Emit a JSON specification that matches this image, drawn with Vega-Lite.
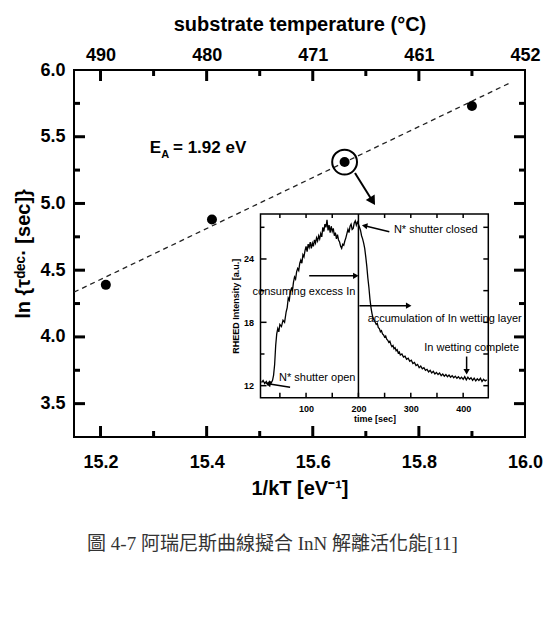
{
  "$schema": "https://vega.github.io/schema/vega-lite/v6.json",
  "width": 451,
  "height": 367,
  "autosize": "none",
  "padding": {"left": 74, "top": 70, "right": 26, "bottom": 185},
  "background": "white",
  "config": {
    "font": "Liberation Sans",
    "view": {"stroke": "black", "strokeWidth": 2},
    "axis": {"grid": false, "ticks": false, "labelColor": "black", "titleColor": "black", "domainColor": "black"}
  },
  "title": {
    "text": "圖 4-7 阿瑞尼斯曲線擬合 InN 解離活化能[11]",
    "orient": "bottom",
    "anchor": "middle",
    "offset": 37,
    "dx": -27,
    "font": "Liberation Serif, Noto Sans CJK TC",
    "fontSize": 19,
    "fontWeight": "normal",
    "color": "#333333"
  },
  "datasets": {
    "points": [
      {"x": 15.21, "y": 4.39},
      {"x": 15.41, "y": 4.88},
      {"x": 15.66, "y": 5.31},
      {"x": 15.90, "y": 5.73}
    ],
    "fit": [
      {"x": 15.15, "y": 4.335},
      {"x": 15.97, "y": 5.9}
    ],
    "mainTicks": [
      {"x": 15.2, "x2": 15.2, "y": 3.25, "y2": 3.3324}, {"x": 15.4, "x2": 15.4, "y": 3.25, "y2": 3.3324},
      {"x": 15.6, "x2": 15.6, "y": 3.25, "y2": 3.3324}, {"x": 15.8, "x2": 15.8, "y": 3.25, "y2": 3.3324},
      {"x": 15.3, "x2": 15.3, "y": 3.25, "y2": 3.295}, {"x": 15.5, "x2": 15.5, "y": 3.25, "y2": 3.295},
      {"x": 15.7, "x2": 15.7, "y": 3.25, "y2": 3.295}, {"x": 15.9, "x2": 15.9, "y": 3.25, "y2": 3.295},
      {"x": 15.2, "x2": 15.2, "y": 6.0, "y2": 5.9176}, {"x": 15.4, "x2": 15.4, "y": 6.0, "y2": 5.9176},
      {"x": 15.6, "x2": 15.6, "y": 6.0, "y2": 5.9176}, {"x": 15.8, "x2": 15.8, "y": 6.0, "y2": 5.9176},
      {"x": 15.3, "x2": 15.3, "y": 6.0, "y2": 5.955}, {"x": 15.5, "x2": 15.5, "y": 6.0, "y2": 5.955},
      {"x": 15.7, "x2": 15.7, "y": 6.0, "y2": 5.955}, {"x": 15.9, "x2": 15.9, "y": 6.0, "y2": 5.955},
      {"x": 15.15, "x2": 15.1707, "y": 3.5, "y2": 3.5}, {"x": 15.15, "x2": 15.1707, "y": 4.0, "y2": 4.0},
      {"x": 15.15, "x2": 15.1707, "y": 4.5, "y2": 4.5}, {"x": 15.15, "x2": 15.1707, "y": 5.0, "y2": 5.0},
      {"x": 15.15, "x2": 15.1707, "y": 5.5, "y2": 5.5},
      {"x": 15.15, "x2": 15.1613, "y": 3.75, "y2": 3.75}, {"x": 15.15, "x2": 15.1613, "y": 4.25, "y2": 4.25},
      {"x": 15.15, "x2": 15.1613, "y": 4.75, "y2": 4.75}, {"x": 15.15, "x2": 15.1613, "y": 5.25, "y2": 5.25},
      {"x": 15.15, "x2": 15.1613, "y": 5.75, "y2": 5.75},
      {"x": 16.0, "x2": 15.9793, "y": 3.5, "y2": 3.5}, {"x": 16.0, "x2": 15.9793, "y": 4.0, "y2": 4.0},
      {"x": 16.0, "x2": 15.9793, "y": 4.5, "y2": 4.5}, {"x": 16.0, "x2": 15.9793, "y": 5.0, "y2": 5.0},
      {"x": 16.0, "x2": 15.9793, "y": 5.5, "y2": 5.5},
      {"x": 16.0, "x2": 15.9887, "y": 3.75, "y2": 3.75}, {"x": 16.0, "x2": 15.9887, "y": 4.25, "y2": 4.25},
      {"x": 16.0, "x2": 15.9887, "y": 4.75, "y2": 4.75}, {"x": 16.0, "x2": 15.9887, "y": 5.25, "y2": 5.25},
      {"x": 16.0, "x2": 15.9887, "y": 5.75, "y2": 5.75}
    ],
    "ring": [{"x": 15.66, "y": 5.31}],
    "mainArrow": [{"x": 15.6796, "y": 5.2285, "x2": 15.7128, "y2": 5.017}],
    "mainHead": [{"x": 15.7128, "y": 5.017}],
    "eaMain": [
      {"x": 15.293, "y": 5.378, "label": "E"},
      {"x": 15.3366, "y": 5.378, "label": "= 1.92 eV"}
    ],
    "eaSub": [{"x": 15.3145, "y": 5.341, "label": "A"}],
    "curve": [
      {"t": 15, "I": 12.3}, {"t": 18, "I": 12.5}, {"t": 21, "I": 12.2}, {"t": 24, "I": 12.4}, {"t": 27, "I": 12.1},
      {"t": 30, "I": 12.4}, {"t": 33, "I": 12.2}, {"t": 36, "I": 12.5}, {"t": 38, "I": 13.0}, {"t": 40, "I": 14.0},
      {"t": 42, "I": 15.8}, {"t": 44, "I": 16.9}, {"t": 46, "I": 17.4}, {"t": 48, "I": 17.1}, {"t": 50, "I": 17.8},
      {"t": 53, "I": 17.6}, {"t": 56, "I": 18.2}, {"t": 59, "I": 18.0}, {"t": 62, "I": 19.0}, {"t": 64, "I": 19.4},
      {"t": 66, "I": 20.3}, {"t": 68, "I": 20.1}, {"t": 70, "I": 20.9}, {"t": 72, "I": 21.2}, {"t": 74, "I": 21.0},
      {"t": 76, "I": 21.8}, {"t": 78, "I": 22.3}, {"t": 80, "I": 22.1}, {"t": 82, "I": 22.8}, {"t": 84, "I": 23.1},
      {"t": 86, "I": 22.9}, {"t": 88, "I": 23.6}, {"t": 90, "I": 23.9}, {"t": 92, "I": 23.6}, {"t": 94, "I": 24.4},
      {"t": 96, "I": 24.2}, {"t": 98, "I": 24.8}, {"t": 100, "I": 25.2}, {"t": 102, "I": 24.7}, {"t": 104, "I": 25.4},
      {"t": 106, "I": 25.1}, {"t": 108, "I": 25.6}, {"t": 110, "I": 25.0}, {"t": 112, "I": 25.5}, {"t": 114, "I": 25.2},
      {"t": 116, "I": 25.8}, {"t": 118, "I": 25.5}, {"t": 120, "I": 26.0}, {"t": 122, "I": 25.7}, {"t": 124, "I": 26.2},
      {"t": 126, "I": 25.9}, {"t": 128, "I": 26.4}, {"t": 130, "I": 26.1}, {"t": 132, "I": 27.0}, {"t": 134, "I": 26.6},
      {"t": 136, "I": 27.3}, {"t": 138, "I": 27.0}, {"t": 140, "I": 27.7}, {"t": 142, "I": 26.7}, {"t": 144, "I": 27.2},
      {"t": 146, "I": 26.5}, {"t": 148, "I": 27.1}, {"t": 150, "I": 26.6}, {"t": 152, "I": 26.9}, {"t": 154, "I": 26.2},
      {"t": 156, "I": 26.5}, {"t": 158, "I": 25.9}, {"t": 160, "I": 26.3}, {"t": 162, "I": 25.8}, {"t": 164, "I": 25.6},
      {"t": 166, "I": 25.2}, {"t": 168, "I": 25.0}, {"t": 170, "I": 25.4}, {"t": 172, "I": 25.3}, {"t": 174, "I": 25.7},
      {"t": 176, "I": 26.0}, {"t": 178, "I": 26.4}, {"t": 180, "I": 26.8}, {"t": 182, "I": 26.5}, {"t": 184, "I": 27.1},
      {"t": 186, "I": 27.3}, {"t": 188, "I": 26.8}, {"t": 190, "I": 26.9}, {"t": 192, "I": 27.4}, {"t": 194, "I": 27.6},
      {"t": 196, "I": 27.2}, {"t": 198, "I": 27.5}, {"t": 200, "I": 27.3}, {"t": 202, "I": 27.0}, {"t": 204, "I": 26.7},
      {"t": 206, "I": 26.2}, {"t": 208, "I": 25.9}, {"t": 210, "I": 25.5}, {"t": 212, "I": 25.0}, {"t": 214, "I": 24.2},
      {"t": 216, "I": 23.3}, {"t": 218, "I": 22.2}, {"t": 220, "I": 21.3}, {"t": 222, "I": 20.2}, {"t": 224, "I": 19.4},
      {"t": 226, "I": 18.8}, {"t": 228, "I": 18.4}, {"t": 230, "I": 18.2}, {"t": 232, "I": 18.0}, {"t": 234, "I": 17.8},
      {"t": 236, "I": 17.9}, {"t": 238, "I": 17.5}, {"t": 240, "I": 17.4}, {"t": 242, "I": 17.1}, {"t": 244, "I": 17.2},
      {"t": 246, "I": 16.9}, {"t": 248, "I": 16.8}, {"t": 250, "I": 16.6}, {"t": 252, "I": 16.7}, {"t": 254, "I": 16.4},
      {"t": 256, "I": 16.3}, {"t": 258, "I": 16.1}, {"t": 260, "I": 16.2}, {"t": 262, "I": 15.9}, {"t": 264, "I": 15.7},
      {"t": 266, "I": 15.8}, {"t": 268, "I": 15.5}, {"t": 270, "I": 15.6}, {"t": 272, "I": 15.3}, {"t": 274, "I": 15.4},
      {"t": 276, "I": 15.1}, {"t": 278, "I": 15.2}, {"t": 280, "I": 14.9}, {"t": 283, "I": 15.0}, {"t": 286, "I": 14.7},
      {"t": 289, "I": 14.8}, {"t": 292, "I": 14.5}, {"t": 295, "I": 14.6}, {"t": 298, "I": 14.3}, {"t": 301, "I": 14.4},
      {"t": 304, "I": 14.1}, {"t": 307, "I": 14.2}, {"t": 310, "I": 13.9}, {"t": 313, "I": 14.0}, {"t": 316, "I": 13.7},
      {"t": 319, "I": 13.85}, {"t": 322, "I": 13.6}, {"t": 325, "I": 13.7}, {"t": 328, "I": 13.45}, {"t": 331, "I": 13.55},
      {"t": 334, "I": 13.3}, {"t": 337, "I": 13.45}, {"t": 340, "I": 13.2}, {"t": 343, "I": 13.35}, {"t": 346, "I": 13.1},
      {"t": 349, "I": 13.25}, {"t": 352, "I": 13.05}, {"t": 355, "I": 13.2}, {"t": 358, "I": 12.95}, {"t": 361, "I": 13.1},
      {"t": 364, "I": 12.9}, {"t": 367, "I": 13.05}, {"t": 370, "I": 12.85}, {"t": 373, "I": 13.0}, {"t": 376, "I": 12.8},
      {"t": 379, "I": 12.95}, {"t": 382, "I": 12.75}, {"t": 385, "I": 12.9}, {"t": 388, "I": 12.7}, {"t": 391, "I": 12.85},
      {"t": 394, "I": 12.65}, {"t": 397, "I": 12.8}, {"t": 400, "I": 12.6}, {"t": 403, "I": 12.85}, {"t": 406, "I": 12.55},
      {"t": 409, "I": 12.8}, {"t": 412, "I": 12.6}, {"t": 415, "I": 12.75}, {"t": 418, "I": 12.5}, {"t": 421, "I": 12.7},
      {"t": 424, "I": 12.45}, {"t": 427, "I": 12.65}, {"t": 430, "I": 12.5}, {"t": 433, "I": 12.7}, {"t": 436, "I": 12.4},
      {"t": 439, "I": 12.6}, {"t": 442, "I": 12.45}, {"t": 445, "I": 12.55}
    ],
    "insetFrame": [{"t": 13, "t2": 448, "I": 10.86, "I2": 28.26}],
    "insetTicks": [
      {"t": 50, "t2": 50, "I": 10.86, "I2": 11.33}, {"t": 100, "t2": 100, "I": 10.86, "I2": 11.33},
      {"t": 150, "t2": 150, "I": 10.86, "I2": 11.33}, {"t": 200, "t2": 200, "I": 10.86, "I2": 11.33},
      {"t": 250, "t2": 250, "I": 10.86, "I2": 11.33}, {"t": 300, "t2": 300, "I": 10.86, "I2": 11.33},
      {"t": 350, "t2": 350, "I": 10.86, "I2": 11.33}, {"t": 400, "t2": 400, "I": 10.86, "I2": 11.33},
      {"t": 50, "t2": 50, "I": 28.26, "I2": 27.88}, {"t": 100, "t2": 100, "I": 28.26, "I2": 27.88},
      {"t": 150, "t2": 150, "I": 28.26, "I2": 27.88}, {"t": 250, "t2": 250, "I": 28.26, "I2": 27.88},
      {"t": 300, "t2": 300, "I": 28.26, "I2": 27.88}, {"t": 350, "t2": 350, "I": 28.26, "I2": 27.88},
      {"t": 400, "t2": 400, "I": 28.26, "I2": 27.88},
      {"t": 13, "t2": 24.5, "I": 12, "I2": 12}, {"t": 13, "t2": 20.6, "I": 15, "I2": 15},
      {"t": 13, "t2": 24.5, "I": 18, "I2": 18}, {"t": 13, "t2": 20.6, "I": 21, "I2": 21},
      {"t": 13, "t2": 24.5, "I": 24, "I2": 24}, {"t": 13, "t2": 20.6, "I": 27, "I2": 27},
      {"t": 448, "t2": 438.5, "I": 12, "I2": 12}, {"t": 448, "t2": 438.5, "I": 15, "I2": 15},
      {"t": 448, "t2": 438.5, "I": 18, "I2": 18}, {"t": 448, "t2": 438.5, "I": 21, "I2": 21},
      {"t": 448, "t2": 438.5, "I": 24, "I2": 24}, {"t": 448, "t2": 438.5, "I": 27, "I2": 27}
    ],
    "shutterLine": [{"t": 200, "I": 10.86, "I2": 28.26}],
    "insetArrows": [
      {"t": 259, "I": 26.58, "t2": 211.8, "I2": 27.15},
      {"t": 106, "I": 22.4, "t2": 195, "I2": 22.4},
      {"t": 201.8, "I": 19.58, "t2": 296, "I2": 19.58},
      {"t": 406.6, "I": 14.76, "t2": 406.6, "I2": 13.31},
      {"t": 69.5, "I": 11.86, "t2": 27.5, "I2": 12.19}
    ],
    "headsRight": [{"t": 195, "I": 22.4}, {"t": 296, "I": 19.58}],
    "headsDown": [{"t": 406.6, "I": 13.31}],
    "headsLeft": [{"t": 211.8, "I": 27.15}, {"t": 27.5, "I": 12.19}],
    "insetText": [
      {"t": 347.7, "I": 26.74, "label": "N* shutter closed"},
      {"t": 96, "I": 20.9, "label": "consuming excess In"},
      {"t": 364.7, "I": 18.32, "label": "accumulation of In wetting layer"},
      {"t": 416.2, "I": 15.6, "label": "In wetting complete"},
      {"t": 121.4, "I": 12.71, "label": "N* shutter open"}
    ]
  },
  "layer": [
    {
      "layer": [
        {
          "data": {"name": "fit"},
          "mark": {"type": "line", "strokeDash": [5, 4], "strokeWidth": 1.3, "color": "#222222"},
          "encoding": {
            "x": {
              "field": "x", "type": "quantitative",
              "scale": {"domain": [15.15, 16.0], "nice": false, "zero": false},
              "axis": {
                "orient": "bottom",
                "values": [15.2, 15.4, 15.6, 15.8, 16.0],
                "format": ".1f",
                "ticks": false,
                "domain": false,
                "labelFont": "Liberation Sans", "labelFontWeight": "bold", "labelFontSize": 18,
                "labelPadding": 16, "labelFlush": false, "labelOverlap": false,
                "title": "1/kT [eV⁻¹]",
                "titleFont": "Liberation Sans", "titleFontWeight": "bold", "titleFontSize": 20,
                "titlePadding": 7
              }
            },
            "y": {
              "field": "y", "type": "quantitative",
              "scale": {"domain": [3.25, 6.0], "nice": false, "zero": false},
              "axis": {
                "orient": "left",
                "values": [3.5, 4.0, 4.5, 5.0, 5.5, 6.0],
                "format": ".1f",
                "ticks": false,
                "domain": false,
                "labelFont": "Liberation Sans", "labelFontWeight": "bold", "labelFontSize": 18,
                "labelPadding": 9, "labelFlush": false, "labelOverlap": false,
                "title": "ln {τᵈᵉᶜ· [sec]}",
                "titleFont": "Liberation Sans", "titleFontWeight": "bold", "titleFontSize": 20,
                "titlePadding": 6
              }
            }
          }
        },
        {
          "data": {"name": "points"},
          "mark": {"type": "point", "shape": "circle", "filled": true, "size": 100, "color": "black", "opacity": 1},
          "encoding": {
            "x": {
              "field": "x", "type": "quantitative",
              "scale": {"domain": [15.15, 16.0], "nice": false, "zero": false},
              "axis": {
                "orient": "top",
                "values": [15.2, 15.4, 15.6, 15.8, 16.0],
                "labelExpr": "['490','','480','','471','','461','','452'][round(datum.value*10)-152]",
                "ticks": false,
                "domain": false,
                "labelFont": "Liberation Sans", "labelFontWeight": "bold", "labelFontSize": 18,
                "labelPadding": 6, "labelFlush": false, "labelOverlap": false,
                "title": "substrate temperature (°C)",
                "titleFont": "Liberation Sans", "titleFontWeight": "bold", "titleFontSize": 20,
                "titlePadding": 12
              }
            },
            "y": {"field": "y", "type": "quantitative", "scale": {"domain": [3.25, 6.0], "nice": false, "zero": false}, "axis": null}
          }
        },
        {
          "data": {"name": "mainTicks"},
          "mark": {"type": "rule", "strokeWidth": 3, "color": "black", "opacity": 1},
          "encoding": {
            "x": {"field": "x", "type": "quantitative", "scale": {"domain": [15.15, 16.0], "nice": false, "zero": false}, "axis": null},
            "y": {"field": "y", "type": "quantitative", "scale": {"domain": [3.25, 6.0], "nice": false, "zero": false}, "axis": null},
            "x2": {"field": "x2"},
            "y2": {"field": "y2"}
          }
        },
        {
          "data": {"name": "ring"},
          "mark": {"type": "point", "shape": "circle", "filled": false, "size": 616, "strokeWidth": 2, "color": "black", "opacity": 1},
          "encoding": {
            "x": {"field": "x", "type": "quantitative", "scale": {"domain": [15.15, 16.0], "nice": false, "zero": false}, "axis": null},
            "y": {"field": "y", "type": "quantitative", "scale": {"domain": [3.25, 6.0], "nice": false, "zero": false}, "axis": null}
          }
        },
        {
          "data": {"name": "mainArrow"},
          "mark": {"type": "rule", "strokeWidth": 2, "color": "black"},
          "encoding": {
            "x": {"field": "x", "type": "quantitative", "scale": {"domain": [15.15, 16.0], "nice": false, "zero": false}, "axis": null},
            "y": {"field": "y", "type": "quantitative", "scale": {"domain": [3.25, 6.0], "nice": false, "zero": false}, "axis": null},
            "x2": {"field": "x2"},
            "y2": {"field": "y2"}
          }
        },
        {
          "data": {"name": "mainHead"},
          "mark": {"type": "point", "shape": "triangle-up", "filled": true, "size": 110, "angle": 148, "color": "black", "opacity": 1},
          "encoding": {
            "x": {"field": "x", "type": "quantitative", "scale": {"domain": [15.15, 16.0], "nice": false, "zero": false}, "axis": null},
            "y": {"field": "y", "type": "quantitative", "scale": {"domain": [3.25, 6.0], "nice": false, "zero": false}, "axis": null}
          }
        },
        {
          "data": {"name": "eaMain"},
          "mark": {"type": "text", "align": "left", "baseline": "alphabetic", "font": "Liberation Sans", "fontWeight": "bold", "fontSize": 17, "color": "black"},
          "encoding": {
            "x": {"field": "x", "type": "quantitative", "scale": {"domain": [15.15, 16.0], "nice": false, "zero": false}, "axis": null},
            "y": {"field": "y", "type": "quantitative", "scale": {"domain": [3.25, 6.0], "nice": false, "zero": false}, "axis": null},
            "text": {"field": "label"}
          }
        },
        {
          "data": {"name": "eaSub"},
          "mark": {"type": "text", "align": "left", "baseline": "alphabetic", "font": "Liberation Sans", "fontWeight": "bold", "fontSize": 11, "color": "black"},
          "encoding": {
            "x": {"field": "x", "type": "quantitative", "scale": {"domain": [15.15, 16.0], "nice": false, "zero": false}, "axis": null},
            "y": {"field": "y", "type": "quantitative", "scale": {"domain": [3.25, 6.0], "nice": false, "zero": false}, "axis": null},
            "text": {"field": "label"}
          }
        }
      ],
      "resolve": {"axis": {"x": "independent", "y": "independent"}}
    },
    {
      "layer": [
        {
          "data": {"name": "insetFrame"},
          "mark": {"type": "rect", "fill": null, "fillOpacity": 0, "stroke": "black", "strokeWidth": 1.5},
          "encoding": {
            "x": {"field": "t", "type": "quantitative", "scale": {"domain": [13, 448], "range": [186.5, 414.3], "nice": false, "zero": false}, "axis": null},
            "y": {"field": "I", "type": "quantitative", "scale": {"domain": [10.86, 28.26], "range": [327.7, 144], "nice": false, "zero": false}, "axis": null},
            "x2": {"field": "t2"},
            "y2": {"field": "I2"}
          }
        },
        {
          "data": {"name": "curve"},
          "mark": {"type": "line", "strokeWidth": 1.3, "color": "black"},
          "encoding": {
            "x": {
              "field": "t", "type": "quantitative",
              "scale": {"domain": [13, 448], "range": [186.5, 414.3], "nice": false, "zero": false},
              "axis": {
                "orient": "bottom", "offset": -39.3,
                "values": [100, 200, 300, 400],
                "ticks": false,
                "domain": false,
                "labelFont": "Liberation Sans", "labelFontWeight": "bold", "labelFontSize": 9,
                "labelPadding": 7, "labelFlush": false, "labelOverlap": false,
                "title": "time [sec]",
                "titleFont": "Liberation Sans", "titleFontWeight": "bold", "titleFontSize": 9,
                "titlePadding": 1
              }
            },
            "y": {
              "field": "I", "type": "quantitative",
              "scale": {"domain": [10.86, 28.26], "range": [327.7, 144], "nice": false, "zero": false},
              "axis": {
                "orient": "left", "offset": -186.5,
                "values": [12, 18, 24],
                "ticks": false,
                "domain": false,
                "labelFont": "Liberation Sans", "labelFontWeight": "bold", "labelFontSize": 9,
                "labelPadding": 7, "labelFlush": false, "labelOverlap": false,
                "title": "RHEED Intensity [a.u.]",
                "titleFont": "Liberation Sans", "titleFontWeight": "bold", "titleFontSize": 9,
                "titlePadding": 3
              }
            }
          }
        },
        {
          "data": {"name": "insetTicks"},
          "mark": {"type": "rule", "strokeWidth": 1.5, "color": "black", "opacity": 1},
          "encoding": {
            "x": {"field": "t", "type": "quantitative", "scale": {"domain": [13, 448], "range": [186.5, 414.3], "nice": false, "zero": false}, "axis": null},
            "y": {"field": "I", "type": "quantitative", "scale": {"domain": [10.86, 28.26], "range": [327.7, 144], "nice": false, "zero": false}, "axis": null},
            "x2": {"field": "t2"},
            "y2": {"field": "I2"}
          }
        },
        {
          "data": {"name": "shutterLine"},
          "mark": {"type": "rule", "strokeWidth": 1.5, "color": "black"},
          "encoding": {
            "x": {"field": "t", "type": "quantitative", "scale": {"domain": [13, 448], "range": [186.5, 414.3], "nice": false, "zero": false}, "axis": null},
            "y": {"field": "I", "type": "quantitative", "scale": {"domain": [10.86, 28.26], "range": [327.7, 144], "nice": false, "zero": false}, "axis": null},
            "y2": {"field": "I2"}
          }
        },
        {
          "data": {"name": "insetArrows"},
          "mark": {"type": "rule", "strokeWidth": 1.5, "color": "black"},
          "encoding": {
            "x": {"field": "t", "type": "quantitative", "scale": {"domain": [13, 448], "range": [186.5, 414.3], "nice": false, "zero": false}, "axis": null},
            "y": {"field": "I", "type": "quantitative", "scale": {"domain": [10.86, 28.26], "range": [327.7, 144], "nice": false, "zero": false}, "axis": null},
            "x2": {"field": "t2"},
            "y2": {"field": "I2"}
          }
        },
        {
          "data": {"name": "headsRight"},
          "mark": {"type": "point", "shape": "triangle-up", "filled": true, "size": 40, "angle": 90, "color": "black", "opacity": 1},
          "encoding": {
            "x": {"field": "t", "type": "quantitative", "scale": {"domain": [13, 448], "range": [186.5, 414.3], "nice": false, "zero": false}, "axis": null},
            "y": {"field": "I", "type": "quantitative", "scale": {"domain": [10.86, 28.26], "range": [327.7, 144], "nice": false, "zero": false}, "axis": null}
          }
        },
        {
          "data": {"name": "headsDown"},
          "mark": {"type": "point", "shape": "triangle-up", "filled": true, "size": 40, "angle": 180, "color": "black", "opacity": 1},
          "encoding": {
            "x": {"field": "t", "type": "quantitative", "scale": {"domain": [13, 448], "range": [186.5, 414.3], "nice": false, "zero": false}, "axis": null},
            "y": {"field": "I", "type": "quantitative", "scale": {"domain": [10.86, 28.26], "range": [327.7, 144], "nice": false, "zero": false}, "axis": null}
          }
        },
        {
          "data": {"name": "headsLeft"},
          "mark": {"type": "point", "shape": "triangle-up", "filled": true, "size": 40, "angle": 281, "color": "black", "opacity": 1},
          "encoding": {
            "x": {"field": "t", "type": "quantitative", "scale": {"domain": [13, 448], "range": [186.5, 414.3], "nice": false, "zero": false}, "axis": null},
            "y": {"field": "I", "type": "quantitative", "scale": {"domain": [10.86, 28.26], "range": [327.7, 144], "nice": false, "zero": false}, "axis": null}
          }
        },
        {
          "data": {"name": "insetText"},
          "mark": {"type": "text", "align": "center", "baseline": "middle", "font": "Liberation Sans", "fontSize": 11, "color": "black"},
          "encoding": {
            "x": {"field": "t", "type": "quantitative", "scale": {"domain": [13, 448], "range": [186.5, 414.3], "nice": false, "zero": false}, "axis": null},
            "y": {"field": "I", "type": "quantitative", "scale": {"domain": [10.86, 28.26], "range": [327.7, 144], "nice": false, "zero": false}, "axis": null},
            "text": {"field": "label"}
          }
        }
      ],
      "resolve": {"axis": {"x": "independent", "y": "independent"}}
    }
  ],
  "resolve": {"scale": {"x": "independent", "y": "independent"}, "axis": {"x": "independent", "y": "independent"}}
}
